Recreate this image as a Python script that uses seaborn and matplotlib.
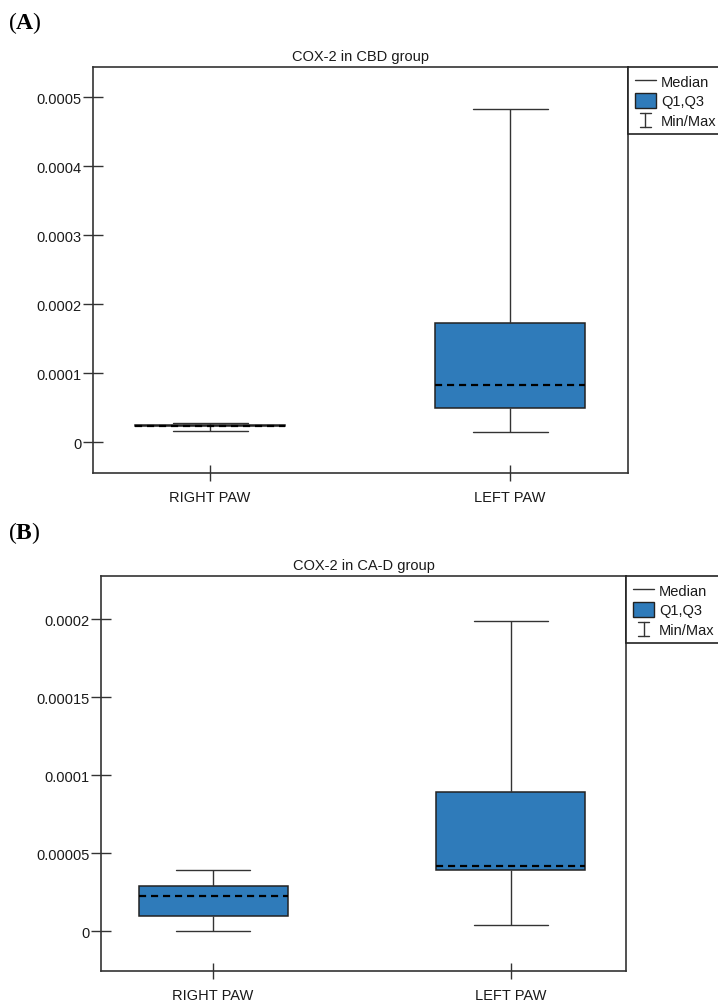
import numpy as np
import pandas as pd
import matplotlib
matplotlib.use("Agg")
import matplotlib.pyplot as plt
import seaborn as sns
from matplotlib.lines import Line2D
from matplotlib.patches import Patch
from matplotlib.legend_handler import HandlerBase
from matplotlib.ticker import MultipleLocator, FuncFormatter

sns.set_theme(style="white")
plt.rcParams["font.family"] = ["Liberation Sans Narrow", "Liberation Sans", "DejaVu Sans"]
plt.rcParams["mathtext.fontset"] = "custom"
plt.rcParams["mathtext.rm"] = "Liberation Serif"
plt.rcParams["mathtext.bf"] = "Liberation Serif:bold"

# ---- five-number summaries per paw ----
paws = ["RIGHT PAW", "LEFT PAW"]

cbd_min = [0.0000159, 0.0000139]
cbd_q1 = [0.0000225, 0.0000493]
cbd_median = [0.0000232, 0.0000830]
cbd_q3 = [0.0000240, 0.0001730]
cbd_max = [0.0000280, 0.0004830]

cad_min = [0.0000003, 0.0000038]
cad_q1 = [0.0000096, 0.0000393]
cad_median = [0.0000224, 0.0000419]
cad_q3 = [0.0000288, 0.0000891]
cad_max = [0.0000391, 0.0001990]

BLUE = "#2f7bba"
LINE = "#333333"
TEXT = "#1a1a1a"


def summary_frame(mins, q1s, meds, q3s, maxs):
    rows = []
    for i, paw in enumerate(paws):
        for v in (mins[i], q1s[i], meds[i], q3s[i], maxs[i]):
            rows.append({"paw": paw, "value": v})
    return pd.DataFrame(rows)


class MinMaxKey:
    pass


class HandlerMinMax(HandlerBase):
    def create_artists(self, legend, orig_handle, xdescent, ydescent,
                       width, height, fontsize, trans):
        cx = -xdescent + width / 2
        y0 = -ydescent + 0.0 * height
        y1 = -ydescent + 0.95 * height
        hw = width * 0.25
        arts = [
            Line2D([cx, cx], [y0, y1], color=LINE, lw=1),
            Line2D([cx - hw, cx + hw], [y0, y0], color=LINE, lw=1),
            Line2D([cx - hw, cx + hw], [y1, y1], color=LINE, lw=1),
        ]
        for a in arts:
            a.set_transform(trans)
        return arts


def fmt(v, _):
    if abs(v) < 1e-12:
        return "0"
    return ("%.5f" % v).rstrip("0").rstrip(".")


def draw_panel(ax, df, title, xlim, ylim, step):
    sns.boxplot(
        data=df, x="paw", y="value", order=paws, ax=ax,
        width=0.5, whis=(0, 100), showfliers=False,
        color=BLUE, saturation=1, linecolor=LINE, linewidth=1,
        capwidths=0.25,
        boxprops={"edgecolor": "#222222", "linewidth": 1.1},
        whiskerprops={"color": LINE, "linewidth": 1},
        capprops={"color": LINE, "linewidth": 1},
        medianprops={"color": "black", "linewidth": 1.6,
                     "linestyle": (0, (3.2, 2.2))},
    )
    ax.set_xlim(*xlim)
    ax.set_ylim(*ylim)
    ax.yaxis.set_major_locator(MultipleLocator(step))
    ax.yaxis.set_major_formatter(FuncFormatter(fmt))
    ax.set_xlabel("")
    ax.set_ylabel("")
    ax.set_title(title, fontsize=10.5, color=TEXT, pad=5)
    for s in ax.spines.values():
        s.set_visible(True)
        s.set_color(LINE)
        s.set_linewidth(1.2)
    ax.tick_params(axis="y", direction="inout", length=14, width=1,
                   color=LINE, labelsize=10.5, labelcolor=TEXT, pad=1,
                   left=True)
    ax.tick_params(axis="x", direction="inout", length=12, width=1,
                   color=LINE, labelsize=10.5, labelcolor=TEXT, pad=6,
                   bottom=True)
    ax.grid(False)

    handles = [
        Line2D([], [], color=LINE, lw=1),
        Patch(facecolor=BLUE, edgecolor="#222222", linewidth=1),
        MinMaxKey(),
    ]
    leg = ax.legend(
        handles, ["Median", "Q1,Q3", "Min/Max"],
        handler_map={MinMaxKey: HandlerMinMax()},
        loc="upper left", bbox_to_anchor=(1, 1), borderaxespad=0,
        frameon=True, fancybox=False, framealpha=1, edgecolor="#222222",
        fontsize=10.5, handlelength=1.5, handleheight=1.2, handletextpad=0.3,
        labelspacing=0.28, borderpad=0.45, labelcolor=TEXT,
    )
    leg.get_frame().set_linewidth(1.2)


fig = plt.figure(figsize=(7.18, 10.03), dpi=100)
fig.patch.set_facecolor("white")

ax_a = fig.add_axes([93 / 718, 1 - 474 / 1003, 535 / 718, 406 / 1003])
draw_panel(ax_a, summary_frame(cbd_min, cbd_q1, cbd_median, cbd_q3, cbd_max),
           "COX-2 in CBD group", (-0.39, 1.393), (-0.0000449, 0.0005435), 0.0001)

ax_b = fig.add_axes([101 / 718, 1 - 972 / 1003, 525 / 718, 395 / 1003])
draw_panel(ax_b, summary_frame(cad_min, cad_q1, cad_median, cad_q3, cad_max),
           "COX-2 in CA-D group", (-0.376, 1.386), (-0.0000256, 0.0002276), 0.00005)

for label, y in (("A", 23), ("B", 533)):
    fig.text(8 / 718, 1 - y / 1003, r"($\mathbf{%s}$)" % label, fontsize=17,
             family=["Liberation Serif", "DejaVu Serif"],
             va="center", ha="left", color="black")

fig.savefig("out.png", dpi=100, facecolor="white")
